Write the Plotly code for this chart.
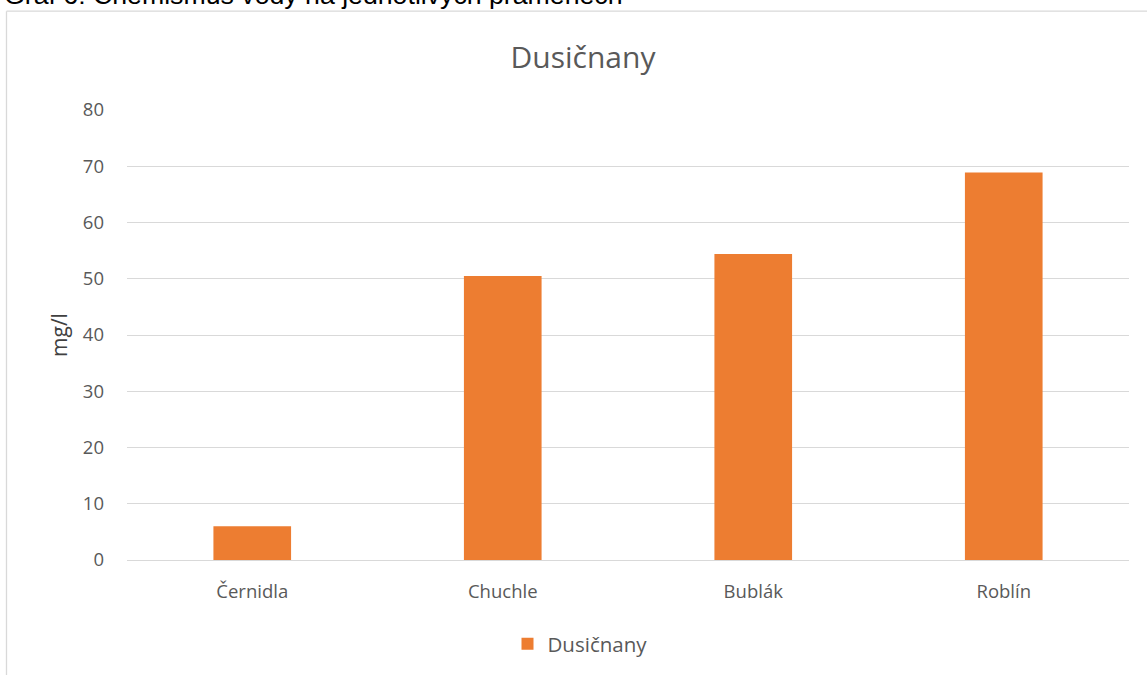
import plotly.graph_objects as go

# Nitrate concentration per spring
categories = ["Černidla", "Chuchle", "Bublák", "Roblín"]
nitrates = [6.0, 50.5, 54.4, 68.9]
y_ticks = [0, 10, 20, 30, 40, 50, 60, 70, 80]

W, H = 1147, 675
L, R, T, B = 127, 18, 110, 114
pw, ph = W - L - R, H - T - B


def px(x):
    return (x - L) / pw


def py(y):
    return (H - B - y) / ph


FONT = "Open Sans"
GREY = "#595959"

fig = go.Figure(
    go.Bar(
        x=categories,
        y=nitrates,
        name="Dusičnany",
        marker=dict(color="#ED7D31", line=dict(width=0)),
        width=0.31,
    )
)

fig.update_layout(
    width=W,
    height=H,
    margin=dict(l=L, r=R, t=T, b=B),
    paper_bgcolor="white",
    plot_bgcolor="white",
    font=dict(family=FONT, color=GREY, size=18),
    showlegend=True,
    legend=dict(
        orientation="h",
        x=px(580),
        xanchor="center",
        y=py(644),
        yanchor="middle",
        font=dict(size=20.5, color=GREY),
        itemwidth=30,
    ),
    title=dict(
        text="Dusičnany",
        xref="container",
        x=583 / W,
        xanchor="center",
        y=1 - 57 / H,
        yanchor="middle",
        font=dict(size=30, color=GREY, family=FONT),
    ),
    xaxis=dict(
        showgrid=False,
        showline=False,
        ticks="",
        ticklabelstandoff=18,
        tickfont=dict(size=18.5, color=GREY),
    ),
    yaxis=dict(
        range=[0, 80],
        tickvals=y_ticks,
        showgrid=True,
        gridcolor="#D9D9D9",
        gridwidth=1.3,
        zeroline=True,
        zerolinecolor="#D9D9D9",
        zerolinewidth=1.3,
        showline=False,
        ticks="",
        ticklabelstandoff=22,
        tickfont=dict(size=18.5, color=GREY),
        title=dict(text="mg/l", font=dict(size=21, color="#404040"), standoff=9),
    ),
    shapes=[
        # chart area frame
        dict(type="line", xref="paper", yref="paper",
             x0=px(6.5), x1=px(6.5), y0=py(11), y1=py(H + 5),
             line=dict(color="#D9D9D9", width=1.3)),
        dict(type="line", xref="paper", yref="paper",
             x0=px(6.5), x1=px(W + 5), y0=py(11), y1=py(11),
             line=dict(color="#D9D9D9", width=1.3)),
    ],
    annotations=[
        dict(
            text="Graf 6: Chemismus vody na jednotlivých pramenech",
            xref="paper", yref="paper",
            x=px(2), y=py(12),
            xanchor="left", yanchor="bottom",
            showarrow=False,
            font=dict(family="Liberation Sans", size=26.7, color="black"),
        )
    ],
)

fig.write_html("out.html")
